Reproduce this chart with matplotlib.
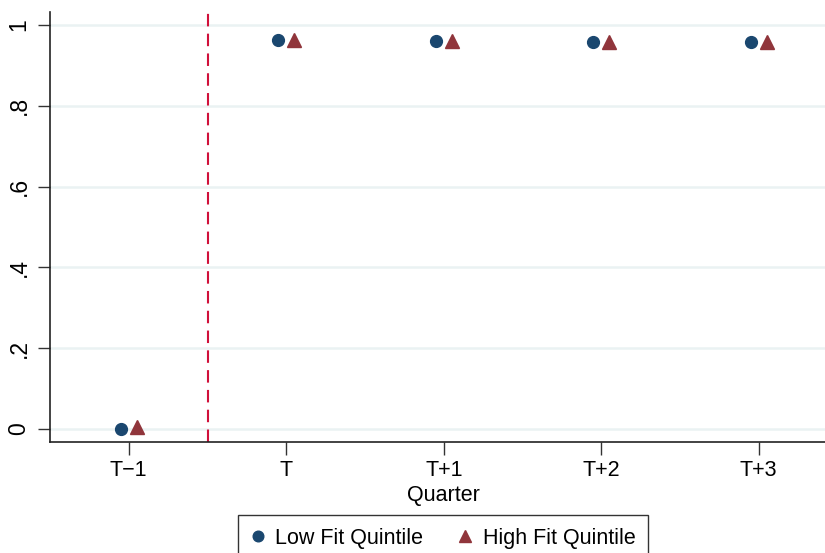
import matplotlib
matplotlib.use("Agg")
import matplotlib.pyplot as plt
import numpy as np

quarters = ["T\u22121", "T", "T+1", "T+2", "T+3"]
low_fit = [0.000, 0.963, 0.960, 0.958, 0.958]
high_fit = [0.004, 0.963, 0.960, 0.958, 0.958]
yticks = [0, 0.2, 0.4, 0.6, 0.8, 1.0]
ytick_labels = ["0", ".2", ".4", ".6", ".8", "1"]

plt.rcParams['font.family'] = ['Liberation Sans', 'DejaVu Sans']

fig = plt.figure(figsize=(8.25, 5.53), dpi=100)
ax = fig.add_axes([50/825, 111/553, 787.5/825, 430/553])

x = np.arange(len(quarters))
navy = "#1a476f"
maroon = "#90353b"

for y in yticks:
    ax.axhline(y, color="#eaf2f3", lw=1.8, zorder=0)

ax.axvline(0.5, color="#d0103a", lw=1.5, dashes=(6, 3.5), zorder=1)

ax.plot(x - 0.05, low_fit, 'o', color=navy, markersize=8.5, linestyle='none',
        label="Low Fit Quintile", zorder=3)
ax.plot(x + 0.05, high_fit, '^', color=maroon, markersize=10, linestyle='none',
        label="High Fit Quintile", zorder=3)

ax.set_xlim(-0.5, 4.5)
ax.set_ylim(-0.032, 1.032)
ax.set_xticks(x)
ax.set_xticklabels(quarters, fontsize=15.5)
ax.set_yticks(yticks)
ax.set_yticklabels(ytick_labels, fontsize=16.5, rotation=90, va='center')
ax.set_xlabel("Quarter", fontsize=15.5, labelpad=3)

for s in ["top", "right"]:
    ax.spines[s].set_visible(False)
for s in ["left", "bottom"]:
    ax.spines[s].set_linewidth(1.2)
    ax.spines[s].set_color("#222222")
ax.tick_params(axis='both', length=9, width=1.0, color="#333333", pad=4)
ax.tick_params(axis='y', pad=5)

leg = fig.legend(loc='upper center', bbox_to_anchor=(443/825, 1 - 515/553), ncol=2,
                 fontsize=15.5, frameon=True, fancybox=False, handletextpad=0.45,
                 columnspacing=1.6, handlelength=0.7, borderpad=0.6,
                 borderaxespad=0, markerscale=0.9)
leg.get_frame().set_edgecolor("black")
leg.get_frame().set_linewidth(1.0)

fig.savefig("out.png", dpi=100)
